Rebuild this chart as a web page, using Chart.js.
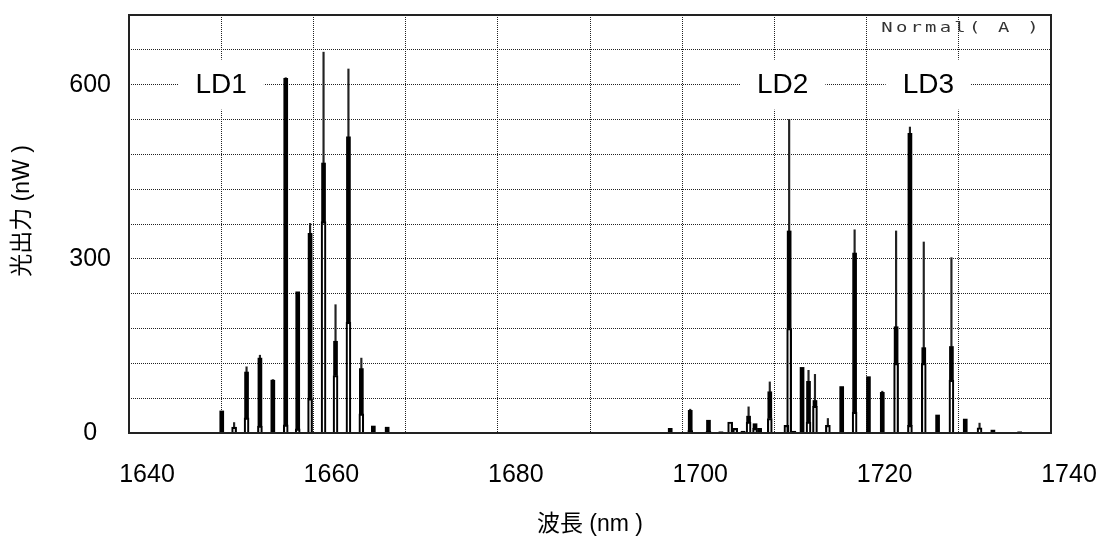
<!DOCTYPE html>
<html>
<head>
<meta charset="utf-8">
<script src="https://cdn.jsdelivr.net/npm/chart.js@4.4.1/dist/chart.umd.min.js"></script>
<style>
  html, body { margin: 0; padding: 0; background: #fff; }
  #wrap { width: 1099px; height: 542px; }
</style>
</head>
<body>
<div id="wrap"><canvas id="spectrum" width="1099" height="542"></canvas></div>
<script>
// Longitudinal modes of LD1, LD2 and LD3: wavelength (nm) and optical power (nW).
// peakTop: highest point of each mode line
// coreTop: top of the solid part of the line
// stepTop: top of the open step at the foot of the line
const wavelengths = [
  1650.06, 1651.4, 1652.75, 1654.2, 1655.6, 1657.0, 1658.3, 1659.64, 1661.1, 1662.4, 1663.8, 1665.2, 1666.5, 1668.0,
  1698.7, 1700.87, 1702.85, 1704.2, 1705.2, 1705.75, 1706.6, 1707.2, 1707.9, 1708.4, 1709.5, 1711.3, 1711.6,
  1712.1, 1713.0, 1713.7, 1714.4, 1715.8, 1717.3, 1718.7,
  1720.2, 1721.7, 1723.2, 1724.7, 1726.2, 1727.7, 1729.2, 1730.7, 1732.25, 1733.7, 1736.6
];
const peakTop = [
  38, 18, 114, 134, 92, 612, 243, 361, 656, 221, 627, 129, 12, 10,
  8, 41, 22, 2, 19, 8, 3, 45, 16, 8, 88, 13, 540,
  3, 113, 108, 101, 25, 80, 350,
  97, 72, 348, 527, 329, 31, 302, 24, 17, 5, 2
];
const coreTop = [
  38, 10, 105, 129, 91, 611, 243, 344, 465, 158, 510, 111, 12, 10,
  8, 39, 22, 2, 19, 8, 3, 29, 16, 8, 71, 13, 348,
  3, 113, 89, 56, 13, 80, 310,
  97, 70, 183, 516, 147, 31, 149, 24, 9, 5, 2
];
const stepTop = [
  0, 10, 26, 12, 0, 14, 7, 59, 364, 99, 191, 33, 0, 0,
  0, 4, 3, 0, 19, 8, 0, 19, 8, 0, 25, 13, 180,
  0, 0, 19, 46, 13, 0, 36,
  0, 0, 120, 13, 120, 0, 91, 0, 9, 0, 0
];

const xTickLabels = [1640, 1660, 1680, 1700, 1720, 1740];
const yTickLabels = [0, 300, 600];

const sourceNames = ['LD1', 'LD2', 'LD3'];
const sourceNameAt = [1650, 1710.9, 1726.7];

const FONT = '"Liberation Sans", Arial, "Noto Sans CJK JP", sans-serif';

// Open step at the foot of each mode line
const stepData = wavelengths
  .map((w, i) => ({ x: w, y: stepTop[i] }))
  .filter(p => p.y > 0);
// Solid part of each mode line
const coreData = wavelengths
  .map((w, i) => ({ x: w, y: [stepTop[i], coreTop[i]] }))
  .filter(p => p.y[1] > p.y[0]);
// Thin tip of each mode line
const tipData = wavelengths
  .map((w, i) => ({ x: w, y: [coreTop[i], peakTop[i]] }))
  .filter(p => p.y[1] > p.y[0]);

// Fixed axis boxes, no extra padding from tick labels
function pinBox(size, horizontal) {
  return s => {
    if (horizontal) s.height = size; else s.width = size;
    s.paddingTop = s.paddingBottom = s.paddingLeft = s.paddingRight = 0;
  };
}

const decor = {
  id: 'decor',
  beforeDatasetsDraw(chart) {
    const { ctx, scales: { x, y } } = chart;
    ctx.save();
    ctx.font = '28px ' + FONT;
    ctx.textAlign = 'center';
    ctx.textBaseline = 'middle';
    sourceNames.forEach((name, i) => {
      const cx = x.getPixelForValue(sourceNameAt[i]);
      const cy = y.getPixelForValue(600);
      const w = ctx.measureText(name).width + 34;
      ctx.fillStyle = '#fff';
      ctx.fillRect(cx - w / 2, cy - 25, w, 50);
      ctx.fillStyle = '#000';
      ctx.fillText(name, cx, cy + 1);
    });
    ctx.restore();
  },
  afterDatasetsDraw(chart) {
    const { ctx, chartArea: a } = chart;
    ctx.save();
    // plot frame
    ctx.strokeStyle = '#222';
    ctx.lineWidth = 2;
    ctx.strokeRect(a.left, a.top, a.right - a.left, a.bottom - a.top);
    // measurement mode tag, wide fixed-pitch lettering
    ctx.font = '14px "DejaVu Sans Mono", monospace';
    ctx.fillStyle = '#333';
    ctx.textAlign = 'center';
    ctx.textBaseline = 'middle';
    [...'Normal( A )'].forEach((ch, i) => {
      ctx.save();
      ctx.translate(a.right - 164 + i * 14.6, a.top + 13);
      ctx.scale(1.35, 1);
      ctx.fillText(ch, 0, 0);
      ctx.restore();
    });
    // vertical axis title
    ctx.font = '23px ' + FONT;
    ctx.fillStyle = '#000';
    ctx.translate(a.left - 106.5, (a.top + a.bottom) / 2 - 13);
    ctx.rotate(-Math.PI / 2);
    ctx.fillText('光出力 (nW )', 0, 0);
    ctx.restore();
  }
};

new Chart(document.getElementById('spectrum'), {
  type: 'bar',
  data: {
    datasets: [
      {
        label: 'step',
        data: stepData,
        backgroundColor: 'rgba(0,0,0,0)',
        borderColor: '#000',
        borderWidth: 1.5,
        borderSkipped: 'start',
        barThickness: 5,
        order: 0
      },
      {
        label: 'core',
        data: coreData,
        backgroundColor: '#000',
        borderWidth: 0,
        barThickness: 4,
        order: 1
      },
      {
        label: 'tip',
        data: tipData,
        backgroundColor: '#222',
        borderWidth: 0,
        barThickness: 1.5,
        order: 2
      }
    ]
  },
  options: {
    responsive: false,
    animation: false,
    devicePixelRatio: 1,
    layout: { padding: { top: 15, right: 48, left: 0, bottom: 0 }, autoPadding: false },
    datasets: { bar: { grouped: false } },
    plugins: { legend: { display: false }, tooltip: { enabled: false } },
    scales: {
      x: {
        type: 'linear',
        min: 1640,
        max: 1740,
        offset: false,
        afterFit: pinBox(109, true),
        grid: { offset: false, color: '#222', lineWidth: 1, drawTicks: false },
        border: { display: false, dash: [1, 1] },
        ticks: {
          stepSize: 10,
          autoSkip: false,
          maxRotation: 0,
          padding: 27,
          labelOffset: 18,
          color: '#000',
          font: { size: 25, family: FONT },
          callback: v => (xTickLabels.includes(v) ? String(v) : '')
        },
        title: {
          display: true,
          text: '波長 (nm )',
          color: '#000',
          font: { size: 23, family: FONT },
          padding: { top: 0, bottom: 4 }
        }
      },
      y: {
        min: 0,
        max: 720,
        afterFit: pinBox(129, false),
        grid: { color: '#222', lineWidth: 1, drawTicks: false },
        border: { display: false, dash: [1, 1] },
        ticks: {
          stepSize: 60,
          autoSkip: false,
          padding: 18,
          crossAlign: 'center',
          color: '#000',
          font: { size: 25, family: FONT },
          callback: v => (yTickLabels.includes(v) ? String(v) : '')
        }
      }
    }
  },
  plugins: [decor]
});
</script>
</body>
</html>
